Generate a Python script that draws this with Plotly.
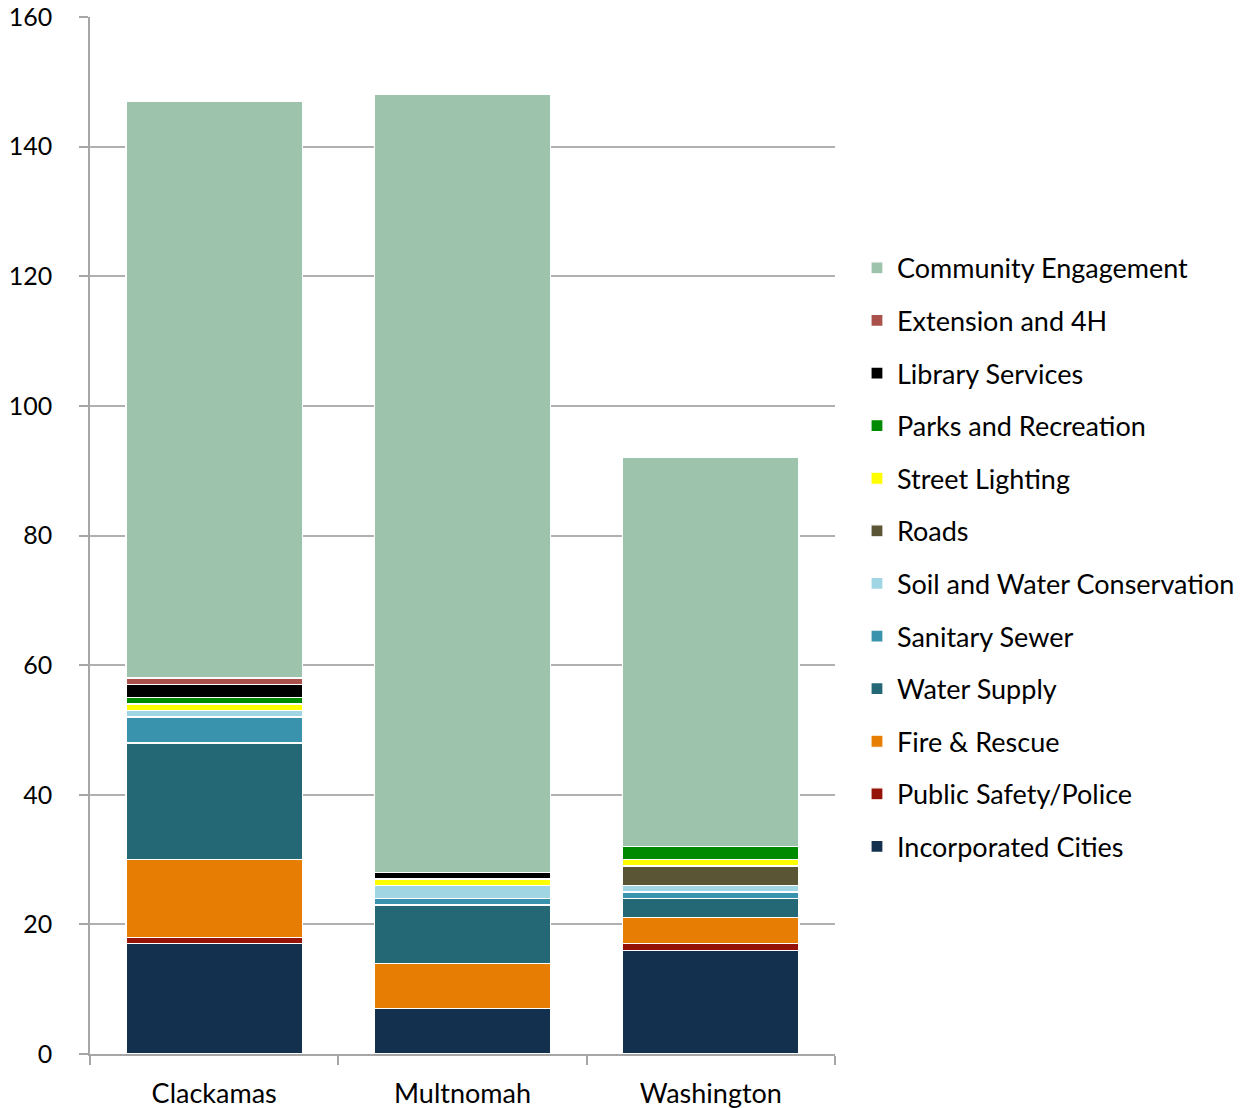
import plotly.graph_objects as go

counties = ["Clackamas", "Multnomah", "Washington"]

incorporated_cities = [17, 7, 16]
public_safety = [1, 0, 1]
fire_rescue = [12, 7, 4]
water_supply = [18, 9, 3]
sanitary_sewer = [4, 1, 1]
soil_water = [1, 2, 1]
roads = [0, 0, 3]
street_lighting = [1, 1, 1]
parks_rec = [1, 0, 2]
library = [2, 1, 0]
extension_4h = [1, 0, 0]
community_engagement = [89, 120, 60]

series = [
    ("Incorporated Cities", incorporated_cities, "#13304E"),
    ("Public Safety/Police", public_safety, "#951208"),
    ("Fire & Rescue", fire_rescue, "#E87D03"),
    ("Water Supply", water_supply, "#246876"),
    ("Sanitary Sewer", sanitary_sewer, "#3A93AD"),
    ("Soil and Water Conservation", soil_water, "#A0D5E3"),
    ("Roads", roads, "#5A5535"),
    ("Street Lighting", street_lighting, "#FFFF00"),
    ("Parks and Recreation", parks_rec, "#008A00"),
    ("Library Services", library, "#000000"),
    ("Extension and 4H", extension_4h, "#A9514A"),
    ("Community Engagement", community_engagement, "#9DC3AD"),
]

fig = go.Figure()
for i, (name, vals, color) in enumerate(series):
    fig.add_trace(go.Bar(
        x=counties, y=vals, name=name, legendgroup=name,
        legendrank=1000 - i,
        marker=dict(color=color, line=dict(color="white", width=1.2)),
        hoverinfo="skip",
    ))

font_family = "Lato, 'Open Sans', sans-serif"
fig.update_layout(
    width=1248, height=1108,
    barmode="stack", bargap=0.29,
    plot_bgcolor="white", paper_bgcolor="white",
    margin=dict(l=90, r=413, t=17, b=54, autoexpand=False),
    font=dict(family=font_family, size=27, color="#000000"),
    showlegend=True,
    legend=dict(
        x=1.0295, xanchor="left", y=0.479, yanchor="middle",
        traceorder="grouped", tracegroupgap=14.5,
        font=dict(family=font_family, size=27, color="#000000"),
        itemwidth=30,
    ),
    xaxis=dict(
        showline=True, linecolor="#a6a6a6", linewidth=1.5,
        ticks="outside", tickson="boundaries", ticklen=9, tickcolor="#a6a6a6", tickwidth=1.5,
        tickfont=dict(size=27), showgrid=False, ticklabelstandoff=15,
    ),
    yaxis=dict(
        range=[0, 160], dtick=20,
        showline=True, linecolor="#a6a6a6", linewidth=1.5,
        ticks="outside", ticklen=9, tickcolor="#a6a6a6", tickwidth=1.5,
        showgrid=True, gridcolor="#b0b0b0", gridwidth=1.5,
        zeroline=False, tickfont=dict(size=25), ticklabelstandoff=22,
    ),
)

fig.write_html(
    "out.html",
    config={"displayModeBar": False},
    post_script="document.body.style.margin='0px';",
)
